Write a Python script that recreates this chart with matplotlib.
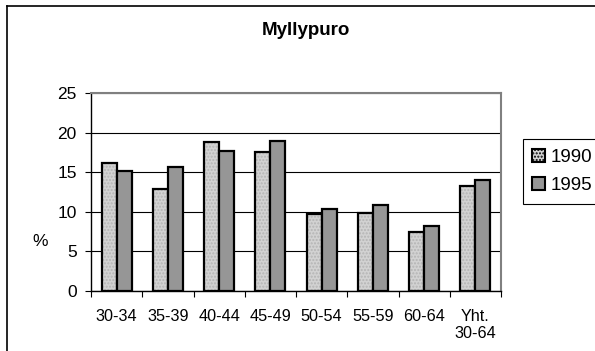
import matplotlib
matplotlib.use("Agg")
import matplotlib.pyplot as plt
import numpy as np
from matplotlib.lines import Line2D
from matplotlib.patches import Patch

categories = ["30-34", "35-39", "40-44", "45-49", "50-54", "55-59", "60-64", "Yht.\n30-64"]
values_1990 = [16.2, 12.9, 18.8, 17.5, 9.7, 9.8, 7.4, 13.2]
values_1995 = [15.1, 15.6, 17.7, 18.9, 10.4, 10.9, 8.2, 14.0]
series_labels = ["1990", "1995"]
title = "Myllypuro"
y_ticks = [0, 5, 10, 15, 20, 25]

plt.rcParams['font.family'] = ['Liberation Sans', 'DejaVu Sans']

W, H = 595, 351
fig = plt.figure(figsize=(W / 100, H / 100), dpi=100)
fig.patch.set_facecolor('white')

ax = fig.add_axes([91 / W, 1 - 291 / H, (501 - 91) / W, (291 - 93) / H])

x = np.arange(len(categories))
bw = 0.293
c1990 = '#d2d2d2'
c1995 = '#969696'

# 1990 textured bars
ax.bar(x - bw / 2, values_1990, width=bw, facecolor=c1990, edgecolor='#b4b4b4',
       hatch='.....', linewidth=0, zorder=3)
ax.bar(x - bw / 2, values_1990, width=bw, fill=False, edgecolor='black',
       linewidth=1.6, zorder=4)
# 1995 bars
ax.bar(x + bw / 2, values_1995, width=bw, facecolor=c1995, edgecolor='black',
       linewidth=1.6, zorder=4)

ax.set_xlim(-0.5, len(categories) - 0.5)
ax.set_ylim(0, 25)
ax.set_yticks(y_ticks)
ax.set_yticklabels([str(v) for v in y_ticks], fontsize=12.5)
ax.yaxis.grid(True, color='black', linewidth=0.8, zorder=0)
ax.set_axisbelow(True)

ax.set_xticks(x)
ax.set_xticklabels(categories, fontsize=11.7, linespacing=1.2)
ax.set_xticks(np.arange(-0.5, len(categories)), minor=True)
ax.tick_params(axis='x', which='major', length=0, pad=13)
ax.tick_params(axis='x', which='minor', length=4.3, width=0.8, direction='out')
ax.tick_params(axis='y', length=4.3, width=0.8, direction='out', pad=6)

for s in ['top', 'right']:
    ax.spines[s].set_color('#808080')
    ax.spines[s].set_linewidth(1.5)
for s in ['left', 'bottom']:
    ax.spines[s].set_color('black')
    ax.spines[s].set_linewidth(1.0)

fig.text(40 / W, 1 - 242 / H, "%", fontsize=12.5, ha='center', va='center')
fig.text(305.5 / W, 1 - 35 / H, title, fontsize=13.5, fontweight='bold',
         ha='center', va='baseline')

handles = [Patch(facecolor=c1990, edgecolor='black', linewidth=1.5, hatch='.....'),
           Patch(facecolor=c1995, edgecolor='black', linewidth=1.5)]
leg = fig.legend(handles, series_labels, loc='upper left',
                 bbox_to_anchor=(522.7 / W, 1 - 139.3 / H), fontsize=13.5,
                 frameon=True, fancybox=False, edgecolor='black', framealpha=1,
                 handlelength=0.7, handleheight=0.7, handletextpad=0.3,
                 borderpad=0.5, labelspacing=0.6, borderaxespad=0)
leg.get_frame().set_linewidth(0.8)

# outer chart border (left and top visible)
fig.add_artist(Line2D([6.5 / W, 6.5 / W], [0, 1 - 5.5 / H], color='black', linewidth=1.2,
                      transform=fig.transFigure))
fig.add_artist(Line2D([6.5 / W, 1], [1 - 5.5 / H, 1 - 5.5 / H], color='black', linewidth=1.2,
                      transform=fig.transFigure))

fig.savefig("out.png", dpi=100)
